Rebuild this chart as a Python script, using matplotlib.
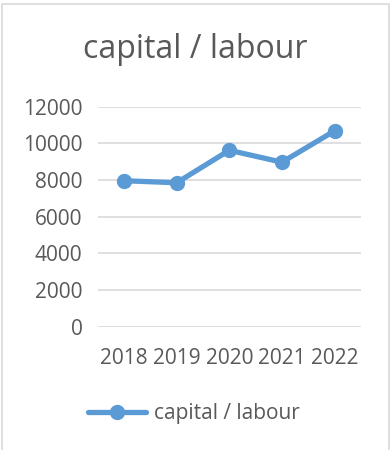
import matplotlib
matplotlib.use('Agg')
import matplotlib.pyplot as plt
from matplotlib.patches import Rectangle

# data
years = ['2018', '2019', '2020', '2021', '2022']
ratio = [7960, 7850, 9620, 8970, 10680]
series_name = 'capital / labour'

plt.rcParams['font.family'] = ['Open Sans', 'DejaVu Sans']
grey = '#595959'
blue = '#5B9BD5'

fig = plt.figure(figsize=(3.9, 4.5), dpi=100)
ax = fig.add_axes([0.2505, 0.274, 0.675, 0.489])

ax.plot(range(len(years)), ratio, color=blue, linewidth=3.8,
        marker='o', markersize=10, label=series_name,
        solid_capstyle='round', zorder=3)

ax.set_xlim(-0.5, len(years) - 0.5)
ax.set_ylim(0, 12000)
ax.set_yticks(range(0, 12001, 2000))
ax.set_xticks(range(len(years)))
ax.set_xticklabels(years)
ax.grid(axis='y', color='#D9D9D9', linewidth=1.2)
ax.set_axisbelow(True)
for s in ax.spines.values():
    s.set_visible(False)
ax.tick_params(length=0, labelsize=15, labelcolor=grey)
ax.tick_params(axis='y', pad=11)
ax.tick_params(axis='x', pad=15)

fig.text(0.5, 0.89, series_name, ha='center', va='center',
         fontsize=23, color=grey)

fig.legend(loc='center', bbox_to_anchor=(0.497, 0.08), frameon=False,
           fontsize=15, labelcolor=grey, handlelength=2.8,
           handletextpad=0.35)

# chart border
fig.patches.append(Rectangle((2 / 390, -0.01), 387 / 390, 1 - 4 / 450 + 0.01,
                             transform=fig.transFigure, fill=False,
                             edgecolor='#D9D9D9', linewidth=1.2))

fig.savefig('out.png', dpi=100)
